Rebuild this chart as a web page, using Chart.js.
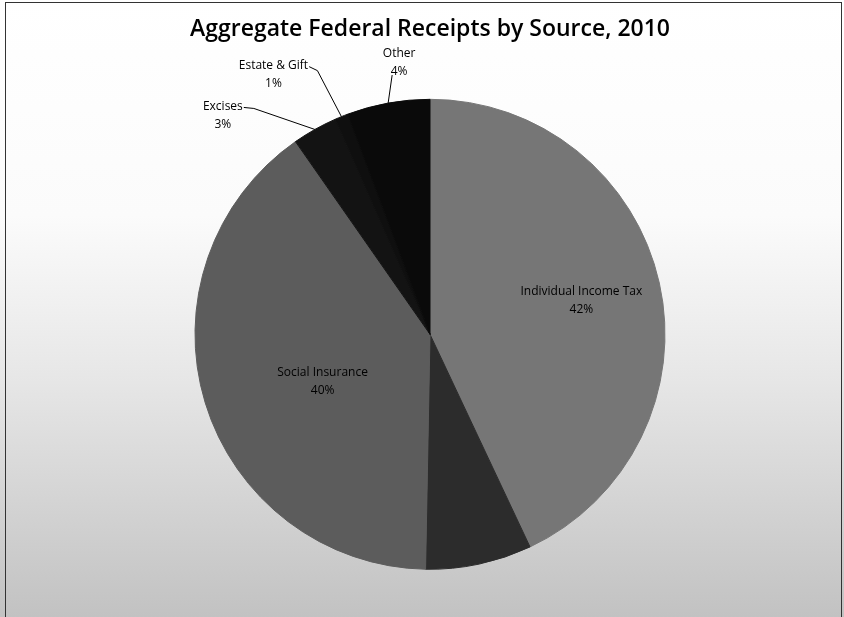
<!DOCTYPE html>
<html>
<head>
<meta charset="utf-8">
<script src="https://cdn.jsdelivr.net/npm/chart.js@4.4.0/dist/chart.umd.min.js"></script>
<style>
  html, body { margin: 0; padding: 0; }
  body {
    width: 844px;
    height: 617px;
    overflow: hidden;
    position: relative;
    background: linear-gradient(to bottom, #ffffff 0%, #fbfbfb 35%, #e6e6e6 62%, #c2c2c2 100%);
  }
  .frame {
    position: absolute;
    left: 5px;
    top: 2px;
    width: 835px;
    height: 660px;
    border: 1px solid #333;
  }
  #chart { position: absolute; left: 0; top: 0; }
</style>
</head>
<body>
<div class="frame"></div>
<canvas id="chart" width="844" height="617"></canvas>

<script>
// data (slice sizes in percent of total)
const categories = ['Individual Income Tax', 'Corporate Income Tax', 'Social Insurance', 'Excises', 'Estate & Gift', 'Other'];
const shares = [43.0, 7.3, 40.0, 3.1, 0.9, 5.7];
// percent labels as printed on the chart (corporate has none visible)
const shareLabels = ['42%', '', '40%', '3%', '1%', '4%'];

const sliceColors = ['#767676', '#2c2c2c', '#5c5c5c', '#131313', '#0f0f0f', '#0a0a0a'];

// how each label sits: inside at a fraction of the radius, or outside with a leader line
const labelStyle = [
  { inside: true, radius: 0.66 },
  null,
  { inside: true, radius: 0.5, turn: -7 },
  { inside: false, dx: -92, dy: -14, elbow: [-61, -21] },
  { inside: false, dx: -68, dy: -42, elbow: [-24, -46] },
  { inside: false, dx: 11, dy: -40, elbow: [4, -28] }
];

const labelFont = '12px "Open Sans"';

const drawLabels = {
  id: 'drawLabels',
  afterDatasetsDraw(chart) {
    const ctx = chart.ctx;
    const arcs = chart.getDatasetMeta(0).data;

    ctx.save();
    ctx.font = labelFont;
    ctx.fillStyle = '#000';
    ctx.strokeStyle = '#000';
    ctx.lineWidth = 1;
    ctx.textAlign = 'center';
    ctx.textBaseline = 'middle';

    arcs.forEach((arc, i) => {
      const style = labelStyle[i];
      if (!style) return;
      const p = arc.getProps(['x', 'y', 'startAngle', 'endAngle', 'outerRadius']);
      let mid = (p.startAngle + p.endAngle) / 2;

      if (style.inside) {
        if (style.turn) mid += style.turn * Math.PI / 180;
        const r = p.outerRadius * style.radius;
        const cx = p.x + Math.cos(mid) * r;
        const cy = p.y + Math.sin(mid) * r;
        ctx.fillText(categories[i], cx, cy - 9);
        ctx.fillText(shareLabels[i], cx, cy + 9);
        return;
      }

      // point on the rim, then the text block placed off it
      const ex = p.x + Math.cos(mid) * p.outerRadius;
      const ey = p.y + Math.sin(mid) * p.outerRadius;
      const tx = ex + style.dx;
      const ty = ey + style.dy;
      ctx.fillText(categories[i], tx, ty - 9);
      ctx.fillText(shareLabels[i], tx, ty + 9);

      const w = ctx.measureText(categories[i]).width;
      ctx.beginPath();
      ctx.moveTo(ex, ey);
      ctx.lineTo(ex + style.elbow[0], ey + style.elbow[1]);
      if (style.dx < 0) {
        ctx.lineTo(tx + w / 2 + 1, ty - 8);
      }
      ctx.stroke();
    });

    ctx.restore();
  }
};

const ctx = document.getElementById('chart').getContext('2d');
const chart = new Chart(ctx, {
  type: 'pie',
  data: {
    labels: categories,
    datasets: [{
      data: shares,
      backgroundColor: sliceColors,
      // same colour border just hides the thin seams between slices
      borderColor: sliceColors,
      borderWidth: 1
    }]
  },
  options: {
    responsive: false,
    animation: false,
    devicePixelRatio: 1,
    radius: 235,
    layout: {
      padding: { top: 0, bottom: 0, left: 20, right: 4 }
    },
    plugins: {
      legend: { display: false },
      tooltip: { enabled: false },
      title: {
        display: true,
        text: 'Aggregate Federal Receipts by Source, 2010',
        color: '#000',
        font: { family: '"Open Sans"', size: 23, weight: '600' },
        padding: { top: 16, bottom: 8 }
      }
    }
  },
  plugins: [drawLabels]
});
</script>
</body>
</html>
